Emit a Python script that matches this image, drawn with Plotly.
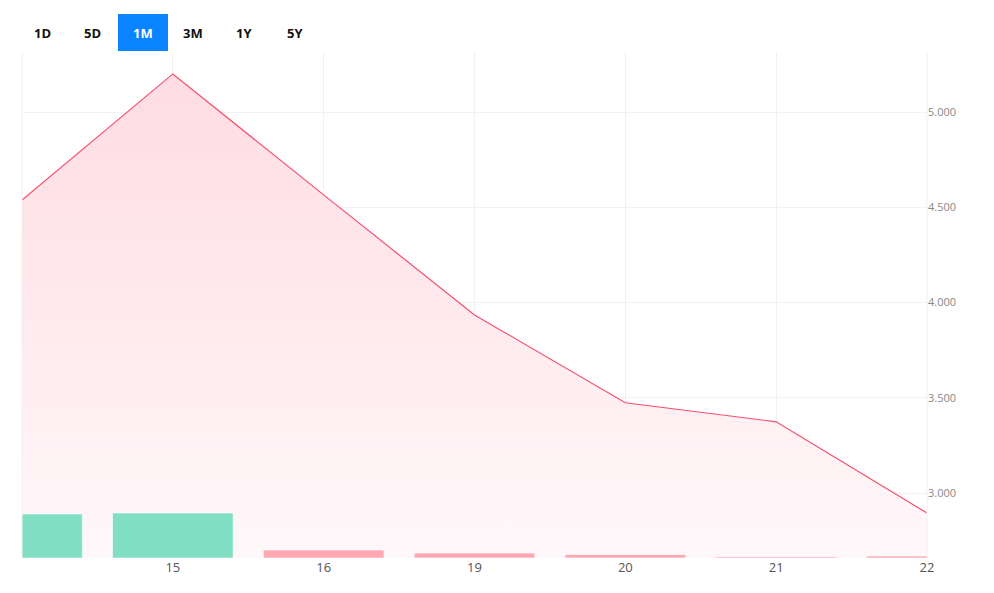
import plotly.graph_objects as go

x_idx = [0, 1, 2, 3, 4, 5, 6]
x_labels = ["14", "15", "16", "19", "20", "21", "22"]
price = [4.538, 5.200, 4.565, 3.935, 3.474, 3.374, 2.895]
volume = [44, 45, 8, 5, 3.5, 1.2, 2]
bar_colors = ["#80dfc2", "#80dfc2", "#ffa8b4", "#ffa8b4", "#ffa8b4", "#ffa8b4", "#ffa8b4"]
y_ticks = [3.0, 3.5, 4.0, 4.5, 5.0]
buttons = ["1D", "5D", "1M", "3M", "1Y", "5Y"]
button_px = [42, 92, 143, 193, 244, 295]

OFF = 8
L, R, T, B = 22 - OFF, 67 + OFF, 52 - OFF, 35 + OFF
W, H = 994, 593
pw, ph = W - L - R, H - T - B
def px(x): return (x - OFF - L) / pw
def py(y): return (H - B - (y - OFF)) / ph

fig = go.Figure()
fig.add_trace(go.Bar(x=x_idx, y=volume, marker=dict(color=bar_colors, line=dict(width=1, color="rgba(255,255,255,0.6)")),
                     width=0.8, yaxis="y2", hoverinfo="skip"))
fig.add_trace(go.Scatter(x=x_idx, y=price, mode="lines", line=dict(color="#f4506c", width=1.2),
                         fill="tozeroy",
                         fillgradient=dict(type="vertical", start=2.66, stop=5.2,
                                           colorscale=[[0, "rgba(255,248,250,1)"], [1, "rgba(255,220,227,1)"]])))

shapes = [dict(type="rect", xref="paper", yref="paper", x0=px(118), x1=px(168), y0=py(51), y1=py(14),
               fillcolor="#0a84ff", line=dict(width=0), layer="above")]
ann = []
for t, bx in zip(buttons, button_px):
    ann.append(dict(text=f"<b>{t}</b>", x=px(bx), y=py(33), xref="paper", yref="paper",
                    xanchor="center", yanchor="middle",
                    showarrow=False, font=dict(size=13, color="white" if t == "1M" else "#111")))

fig.update_layout(
    width=W, height=H, margin=dict(l=L, r=R, t=T, b=B),
    paper_bgcolor="white", plot_bgcolor="white", showlegend=False,
    font=dict(family="Open Sans"),
    shapes=shapes, annotations=ann,
    xaxis=dict(range=[0, 6], tickvals=x_idx[1:], ticktext=x_labels[1:], showgrid=True, gridcolor="#f0f0f0",
               zeroline=False, tickfont=dict(size=13, color="#555"), showline=False, ticks=""),
    yaxis=dict(range=[2.659, 5.315], side="right", tickvals=y_ticks, ticktext=[f"{v:.3f}" for v in y_ticks],
               showgrid=True, gridcolor="#f2f2f2", zeroline=False, tickfont=dict(size=11, color="#888")),
    yaxis2=dict(range=[0, 506], overlaying="y", visible=False),
)
fig.add_shape(type="line", xref="paper", yref="paper", x0=0, x1=0, y0=0, y1=1, line=dict(color="#f0f0f0", width=1))
fig.add_shape(type="line", xref="paper", yref="paper", x0=1, x1=1, y0=0, y1=1, line=dict(color="#f0f0f0", width=1))
fig.write_html("out.html")
